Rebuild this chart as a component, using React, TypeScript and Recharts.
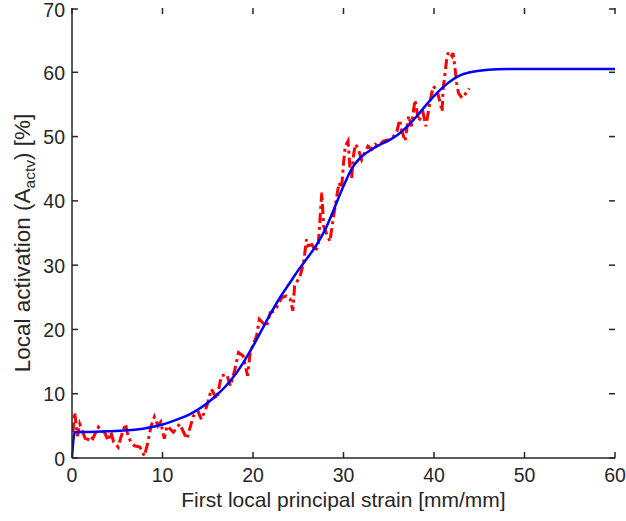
import React from 'react';
import { LineChart, Line, XAxis, YAxis } from 'recharts';

const fitX = [0, 0.3, 2, 4, 6, 8, 10, 12, 13, 14, 15, 16, 17, 18, 19, 20, 21, 22, 23, 24, 25, 26, 27, 28, 29, 30, 31, 32, 33, 34, 35, 36, 37, 38, 39, 40, 41, 42, 43, 44, 45, 46, 48, 50, 55, 60];
const fitY = [0, 4, 4.05, 4.15, 4.3, 4.6, 5.2, 6.2, 6.8, 7.6, 8.6, 9.8, 11.2, 12.9, 15.0, 17.4, 20.0, 22.6, 25.0, 27.1, 29.2, 31.1, 33.1, 35.6, 38.9, 42.3, 45.2, 46.9, 47.9, 48.7, 49.4, 50.3, 51.5, 53.0, 54.7, 56.3, 57.7, 58.8, 59.6, 60.0, 60.25, 60.4, 60.5, 60.5, 60.5, 60.5];

const measX = [0.1, 0.3, 0.6, 0.85, 1.2, 1.6, 1.95, 2.3, 2.9, 3.2, 3.6, 4.0, 4.3, 4.6, 5.1, 5.4, 5.9, 6.2, 6.5, 6.9, 7.5, 8.0, 8.4, 8.7, 9.1, 9.5, 9.8, 10.2, 10.5, 11.2, 11.9, 12.5, 12.7, 13.4, 13.9, 14.3, 14.9, 15.4, 16.0, 16.5, 17.1, 17.5, 18.0, 18.4, 18.9, 19.4, 19.7, 20.4, 20.7, 21.1, 21.5, 21.9, 22.4, 23.2, 23.7, 24.1, 24.4, 24.6, 25.2, 25.6, 25.9, 26.1, 26.5, 26.9, 27.2, 27.4, 27.6, 27.8, 28.1, 28.5, 28.9, 29.2, 29.5, 29.8, 30.0, 30.2, 30.5, 30.7, 30.9, 31.1, 31.3, 31.6, 32.0, 32.4, 32.7, 33.1, 33.5, 33.8, 34.4, 35.0, 35.5, 35.9, 36.2, 36.4, 36.8, 37.2, 37.5, 37.9, 38.3, 38.8, 39.1, 39.6, 39.9, 40.3, 40.6, 40.9, 41.0, 41.4, 41.6, 42.0, 42.1, 42.3, 42.5, 42.7, 43.1, 43.4, 43.9];
const measY = [4, 7.1, 3.4, 5.3, 4, 2.5, 3.4, 3, 4.8, 4.2, 4, 2.7, 4, 2.5, 1.7, 3.2, 5.3, 3.4, 2.5, 1.9, 1.7, 0.3, 2.5, 4.8, 6.4, 5, 5.6, 3, 5, 4, 5.3, 3.5, 3, 6.5, 7.3, 6, 8.1, 10.7, 9.2, 12.8, 13, 11.2, 13.8, 16.4, 15.9, 12.8, 16.5, 19, 21.6, 21, 20.5, 22.6, 22.9, 25, 25.2, 24.8, 22.9, 26.8, 28.3, 30.4, 34, 33, 33.2, 32.2, 33, 37.1, 41.3, 36.1, 35, 33.7, 37.6, 40.2, 42.8, 42, 45.9, 48.5, 49.3, 45.4, 43.5, 47, 48.8, 48.2, 46.4, 47.7, 48.5, 48, 48.8, 48.5, 49.3, 49.5, 50, 50.8, 52.6, 51.1, 49.3, 53.2, 51.6, 55.7, 52.4, 53.7, 51.6, 55.7, 57.8, 57.3, 55.7, 53.9, 57.3, 62, 63.2, 62.5, 63, 60.9, 58.3, 56.8, 56, 56.5, 57.5];

const xTicks = [0, 10, 20, 30, 40, 50, 60];
const yTicks = [0, 10, 20, 30, 40, 50, 60, 70];

const fitData = fitX.map((x, i) => ({ x, y: fitY[i] }));
const measData = measX.map((x, i) => ({ x, y: measY[i] }));

const W = 626;
const H = 521;
const M_TOP = 8;
const M_RIGHT = 11;
const Y_AXIS_W = 72;
const X_AXIS_H = 63;
const PLOT_LEFT = Y_AXIS_W;
const PLOT_RIGHT = W - M_RIGHT;
const PLOT_TOP = M_TOP;
const PLOT_BOTTOM = H - X_AXIS_H;
const TICK_LEN = 6;
const AX_COLOR = '#262626';
const FONT = '"Liberation Sans", Arial, Helvetica, sans-serif';
const FS = 19.5;
const LFS = 21.5;

const XTick = (props: any) => {
  const { x, payload } = props;
  return (
    <g>
      <line x1={x} x2={x} y1={PLOT_BOTTOM} y2={PLOT_BOTTOM - TICK_LEN} stroke={AX_COLOR} strokeWidth={1.5} />
      <line x1={x} x2={x} y1={PLOT_TOP} y2={PLOT_TOP + TICK_LEN} stroke={AX_COLOR} strokeWidth={1.5} />
      <text x={x} y={PLOT_BOTTOM + 24} textAnchor="middle" fill={AX_COLOR} fontSize={FS} fontFamily={FONT}>
        {payload.value}
      </text>
    </g>
  );
};

const YTick = (props: any) => {
  const { y, payload } = props;
  return (
    <g>
      <line x1={PLOT_LEFT} x2={PLOT_LEFT + TICK_LEN} y1={y} y2={y} stroke={AX_COLOR} strokeWidth={1.5} />
      <line x1={PLOT_RIGHT} x2={PLOT_RIGHT - TICK_LEN} y1={y} y2={y} stroke={AX_COLOR} strokeWidth={1.5} />
      <text x={PLOT_LEFT - 7} y={y + 7.5} textAnchor="end" fill={AX_COLOR} fontSize={FS} fontFamily={FONT}>
        {payload.value}
      </text>
    </g>
  );
};

const XLabel = () => (
  <text x={(PLOT_LEFT + PLOT_RIGHT) / 2} y={PLOT_BOTTOM + 49} textAnchor="middle" fill={AX_COLOR} fontSize={LFS - 0.5} fontFamily={FONT}>
    First local principal strain [mm/mm]
  </text>
);

const YLabel = () => {
  const cx = 30;
  const cy = (PLOT_TOP + PLOT_BOTTOM) / 2 + 10;
  return (
    <text x={cx} y={cy} transform={`rotate(-90, ${cx}, ${cy})`} textAnchor="middle" fill={AX_COLOR} fontSize={22.5} fontFamily={FONT}>
      Local activation (A
      <tspan dy={5} fontSize={15.5}>actv</tspan>
      <tspan dy={-5}>) [%]</tspan>
    </text>
  );
};

export default function App() {
  return (
    <div style={{ position: 'absolute', left: 0, top: 0, width: W, height: H, background: '#fff' }}>
      <LineChart width={W} height={H} margin={{ top: M_TOP, right: M_RIGHT, bottom: 0, left: 0 }}>
        <XAxis
          xAxisId="main"
          dataKey="x"
          type="number"
          domain={[0, 60]}
          ticks={xTicks}
          allowDataOverflow
          height={X_AXIS_H}
          tick={<XTick />}
          tickLine={false}
          axisLine={{ stroke: AX_COLOR, strokeWidth: 1.5 }}
          label={<XLabel />}
        />
        <XAxis
          xAxisId="top"
          orientation="top"
          dataKey="x"
          type="number"
          domain={[0, 60]}
          height={0}
          tick={false}
          tickLine={false}
          axisLine={{ stroke: AX_COLOR, strokeWidth: 1.5 }}
        />
        <YAxis
          yAxisId="main"
          type="number"
          domain={[0, 70]}
          ticks={yTicks}
          allowDataOverflow
          width={Y_AXIS_W}
          tick={<YTick />}
          tickLine={false}
          axisLine={{ stroke: AX_COLOR, strokeWidth: 1.5 }}
          label={<YLabel />}
        />
        <YAxis
          yAxisId="right"
          orientation="right"
          type="number"
          domain={[0, 70]}
          width={0}
          tick={false}
          tickLine={false}
          axisLine={{ stroke: AX_COLOR, strokeWidth: 1.5 }}
        />
        <Line
          xAxisId="main"
          yAxisId="main"
          data={measData}
          dataKey="y"
          type="linear"
          stroke="#ff0000"
          strokeWidth={3}
          strokeDasharray="10 4 3 4"
          dot={false}
          activeDot={false}
          isAnimationActive={false}
        />
        <Line
          xAxisId="main"
          yAxisId="main"
          data={fitData}
          dataKey="y"
          type="monotone"
          stroke="#0000ff"
          strokeWidth={2.5}
          dot={false}
          activeDot={false}
          isAnimationActive={false}
        />
      </LineChart>
    </div>
  );
}
